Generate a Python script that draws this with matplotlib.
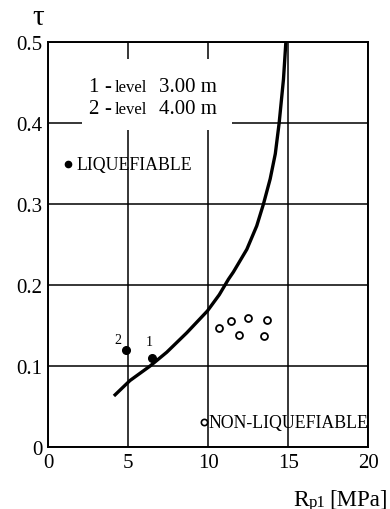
import numpy as np
import matplotlib
matplotlib.use("Agg")
from matplotlib import pyplot as plt
from matplotlib.patches import Rectangle

plt.rcParams["font.family"] = "Liberation Serif"

# boundary curve
curve_x = [4.12, 5.12, 6.38, 7.42, 8.67, 9.96, 10.7, 11.27, 11.58, 12.42,
           13.04, 13.46, 13.88, 14.2, 14.44, 14.71, 14.86]
curve_t = [0.063, 0.082, 0.100, 0.117, 0.141, 0.168, 0.188, 0.207, 0.216, 0.244,
           0.273, 0.300, 0.331, 0.362, 0.400, 0.454, 0.500]

# liquefiable points (1 and 2)
liq_x = [6.48, 4.87]
liq_t = [0.110, 0.120]
liq_lab = ["1", "2"]
lab_x = [6.31, 4.39]
lab_t = [0.130, 0.133]

# non-liquefiable points
non_x = [10.71, 11.46, 12.52, 13.67, 11.92, 13.52]
non_t = [0.1465, 0.156, 0.159, 0.157, 0.138, 0.137]

xticks = [0, 5, 10, 15, 20]
yticks = [0, 0.1, 0.2, 0.3, 0.4, 0.5]
ytick_labels = ["0", "0.1", "0.2", "0.3", "0.4", "0.5"]

levels = ["1", "2"]
depths = ["3.00 m", "4.00 m"]
level_t = [0.440, 0.413]

fig = plt.figure(figsize=(3.9, 5.1), dpi=100)
ax = fig.add_axes([0.123, 0.1216, 0.821, 0.794])

ax.set_xlim(0, 20)
ax.set_ylim(0, 0.5)
ax.set_xticks(xticks)
ax.set_yticks(yticks)
ax.set_yticklabels(ytick_labels)
ax.tick_params(length=0, labelsize=15, pad=4)
ax.grid(True, color="black", lw=1.1)
ax.set_axisbelow(True)
for s in ax.spines.values():
    s.set_linewidth(1.4)

# white area behind the level text
ax.add_patch(Rectangle((2.1, 0.392), 9.4, 0.087, facecolor="white",
                       edgecolor="none", zorder=1.5))

ax.plot(curve_x, curve_t, color="black", lw=2.4, zorder=3, solid_capstyle="butt")

ax.plot(liq_x, liq_t, "o", color="black", ms=5.5, zorder=4)
for x, t, lab in zip(lab_x, lab_t, liq_lab):
    ax.text(x, t, lab, fontsize=10, ha="center", va="center", zorder=4)

ax.plot(non_x, non_t, "o", mfc="white", mec="black", mew=1.3, ms=5, zorder=4)

# legend-like labels
ax.plot([1.27], [0.349], "o", color="black", ms=4.5, zorder=4)
ax.text(1.81, 0.349, "LIQUEFIABLE", fontsize=12.8, va="center", zorder=4)
ax.plot([9.75], [0.0305], "o", mfc="white", mec="black", mew=1.2, ms=4.5, zorder=4)
ax.text(10.0, 0.0305, "NON-LIQUEFIABLE", fontsize=12.8, va="center", zorder=4)

# level text
for lvl, d, t in zip(levels, depths, level_t):
    ax.text(2.52, t, lvl, fontsize=15, va="baseline", zorder=4)
    ax.text(3.5, t, "-", fontsize=15, va="baseline", zorder=4)
    ax.text(4.15, t, "level", fontsize=12, va="baseline", zorder=4)
    ax.text(6.94, t, d, fontsize=15, va="baseline", zorder=4)

fig.text(38 / 390, 1 - 18 / 510, "τ", fontsize=21, ha="center", va="center")
fig.text(293 / 390, 1 - 506 / 510, "R", fontsize=17, va="baseline")
fig.text(309 / 390, 1 - 507 / 510, "p1", fontsize=12, va="baseline")
fig.text(388 / 390, 1 - 506 / 510, "[MPa]", fontsize=16.5, ha="right", va="baseline")

fig.savefig("out.png", dpi=100)
